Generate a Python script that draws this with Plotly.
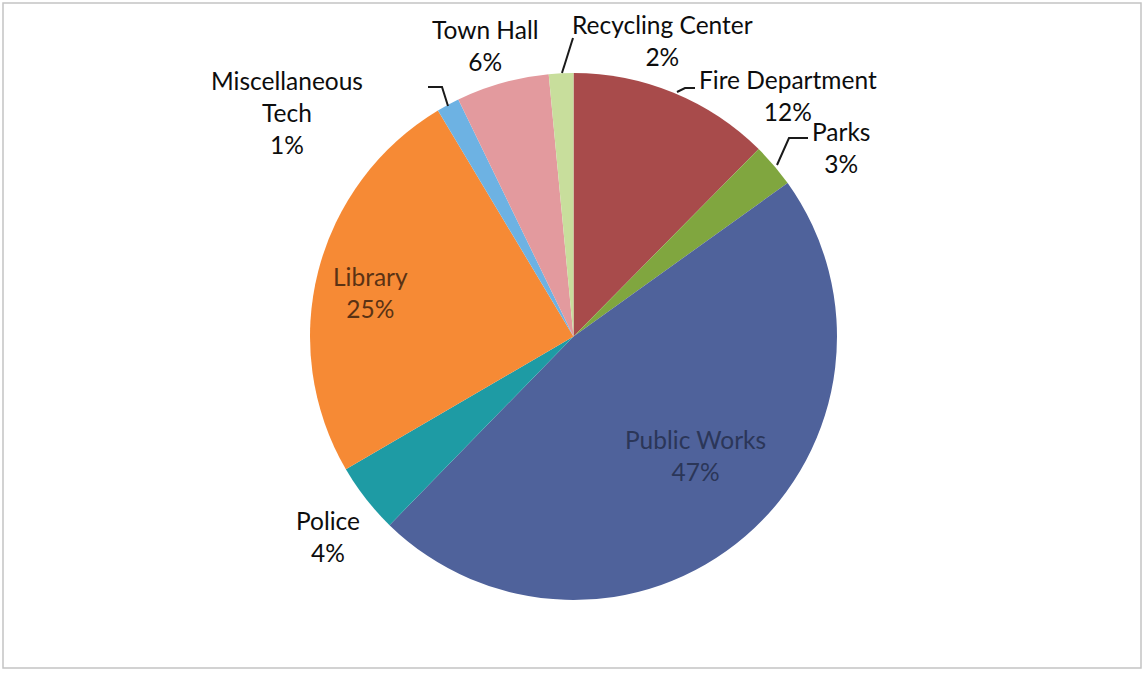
import plotly.graph_objects as go

# ---- data ----
departments = ["Fire Department", "Parks", "Public Works", "Police", "Library",
               "Miscellaneous<br>Tech", "Town Hall", "Recycling Center"]
shares = [12.4, 2.7, 47.2, 4.3, 24.8, 1.4, 5.7, 1.5]
colors = ["#A84B4B", "#80A63F", "#4F629B", "#1E9BA4", "#F68A35",
          "#6DB2E3", "#E39A9E", "#C8DE9C"]

W, H = 1145, 673


def px(x):
    return x / W


def py(y):
    return 1 - y / H


# pie geometry (pixels)
cx, cy, r = 573.5, 336.5, 263.5

fig = go.Figure()
fig.add_trace(go.Pie(
    labels=departments,
    values=shares,
    sort=False,
    direction="clockwise",
    rotation=0,
    marker=dict(colors=colors, line=dict(width=0)),
    textinfo="none",
    hoverinfo="label+percent",
    showlegend=False,
    domain=dict(x=[px(cx - r), px(cx + r)], y=[py(cy + r), py(cy - r)]),
))

# label placement (pixels): department -> (x, y, color)
label_pos = {
    "Fire Department": (788, 96, "#0d0d0d"),
    "Parks": (841, 147, "#0d0d0d"),
    "Public Works": (695, 455, "#2B3658"),
    "Police": (328, 536, "#0d0d0d"),
    "Library": (370, 292, "#5A3214"),
    "Miscellaneous<br>Tech": (287, 113, "#0d0d0d"),
    "Town Hall": (485, 46, "#0d0d0d"),
    "Recycling Center": (662, 40, "#0d0d0d"),
}

annotations = []
for name, val in zip(departments, shares):
    x, y, col = label_pos[name]
    pct = int(val + 0.5)
    annotations.append(dict(
        x=px(x), y=py(y), xref="paper", yref="paper",
        text=f"{name}<br>{pct}%", showarrow=False,
        xanchor="center", yanchor="middle", align="center",
        font=dict(family="Lato, 'Open Sans', sans-serif", size=24.5, color=col),
    ))

# leader lines (pixels)
leaders = [
    [(428, 87), (442, 87), (448, 106)],
    [(573, 38), (562, 73)],
    [(695, 88), (685, 88), (677, 92)],
    [(808, 138), (789, 138), (777, 165)],
]
shapes = []
for pts in leaders:
    path = "M " + " L ".join(f"{px(a):.5f},{py(b):.5f}" for a, b in pts)
    shapes.append(dict(type="path", path=path, xref="paper", yref="paper",
                       line=dict(color="#1a1a1a", width=2)))

# outer frame
shapes.append(dict(type="rect", xref="paper", yref="paper",
                   x0=px(3), x1=px(1141), y0=py(668), y1=py(3),
                   line=dict(color="#C4C4C4", width=1.5)))

fig.update_layout(
    width=W, height=H,
    margin=dict(l=0, r=0, t=0, b=0),
    paper_bgcolor="white",
    plot_bgcolor="white",
    annotations=annotations,
    shapes=shapes,
)

fig.write_html("out.html")
